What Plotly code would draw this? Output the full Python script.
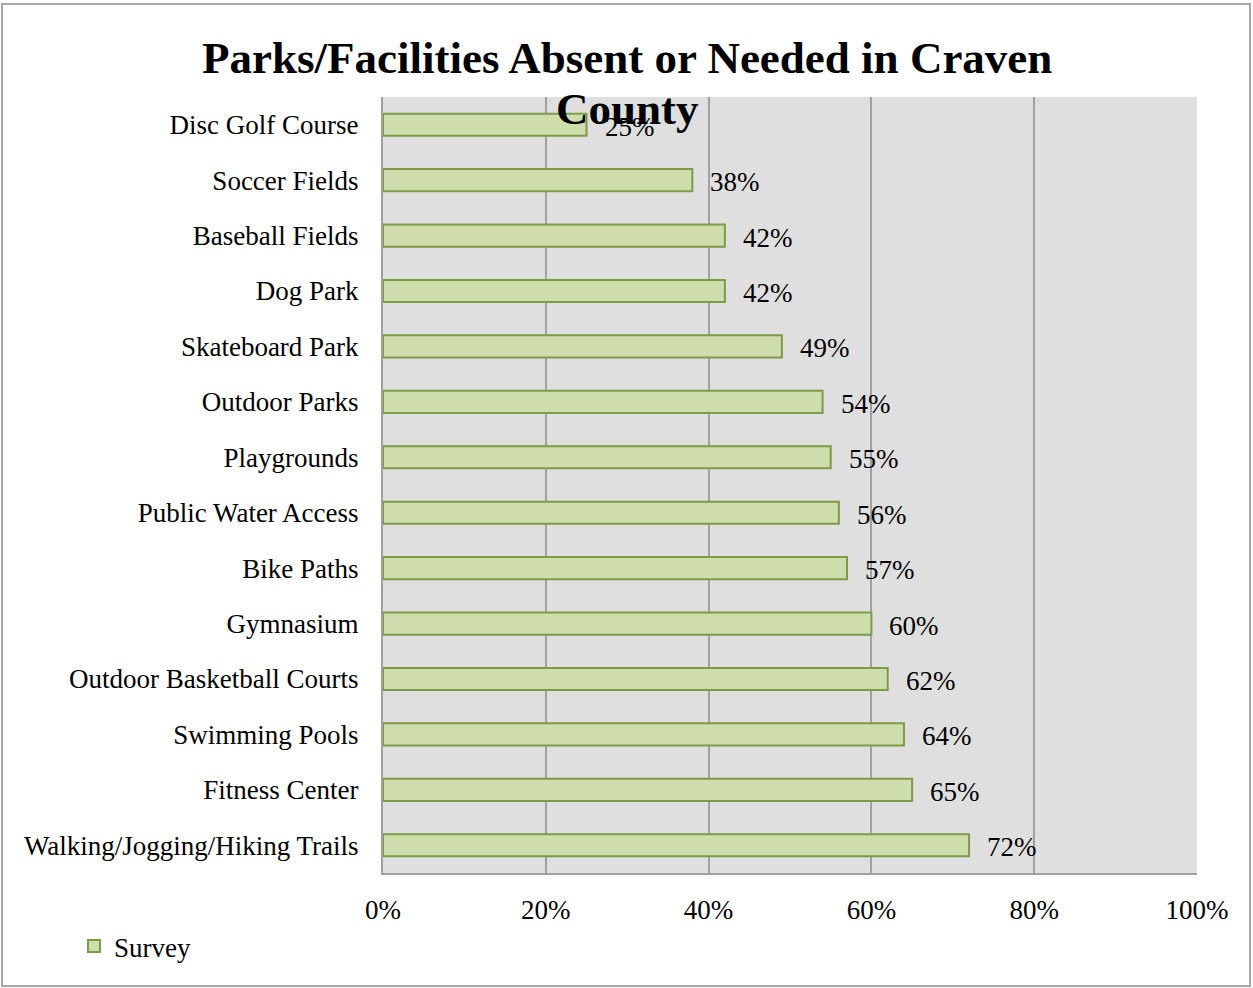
import plotly.graph_objects as go

# Facilities listed top to bottom, with the share of respondents (%)
facilities = [
    "Disc Golf Course",
    "Soccer Fields",
    "Baseball Fields",
    "Dog Park",
    "Skateboard Park",
    "Outdoor Parks",
    "Playgrounds",
    "Public Water Access",
    "Bike Paths",
    "Gymnasium",
    "Outdoor Basketball Courts",
    "Swimming Pools",
    "Fitness Center",
    "Walking/Jogging/Hiking Trails",
]
survey = [25, 38, 42, 42, 49, 54, 55, 56, 57, 60, 62, 64, 65, 72]
tick_values = [0, 20, 40, 60, 80, 100]
tick_labels = ["0%", "20%", "40%", "60%", "80%", "100%"]
title_lines = ["Parks/Facilities Absent or Needed in Craven", "County"]

FONT = "Liberation Serif"
W, H = 1253, 988
L, R, T, B = 383, 56, 97, 115
PW, PH = W - L - R, H - T - B


def py(pixel_y):
    """Convert a pixel row (from the top) to paper y."""
    return (H - B - pixel_y) / PH


def px(pixel_x):
    """Convert a pixel column (from the left) to paper x."""
    return (pixel_x - L) / PW


fig = go.Figure()
fig.add_trace(go.Bar(
    x=survey,
    y=facilities,
    orientation="h",
    name="Survey",
    marker=dict(color="#cfddac", line=dict(color="#7d9a47", width=2)),
    width=0.4,
    hoverinfo="x+y",
))

# value labels just past the end of each bar
for name, val in zip(facilities, survey):
    fig.add_annotation(
        x=val, y=name, xref="x", yref="y",
        text=f"{val}%", showarrow=False,
        xanchor="left", xshift=16, yshift=-2,
        font=dict(family=FONT, size=27, color="#000000"),
    )

# two-line chart title, the second line sitting over the top of the plot
for text, row in zip(title_lines, [58, 109]):
    fig.add_annotation(
        x=px(627), y=py(row), xref="paper", yref="paper",
        text=f"<b>{text}</b>", showarrow=False,
        xanchor="center", yanchor="middle",
        font=dict(family=FONT, size=45, color="#000000"),
    )

# thin frame around the whole chart
fig.add_shape(
    type="rect", xref="paper", yref="paper",
    x0=px(2), x1=px(1250), y0=py(986), y1=py(4),
    line=dict(color="#a6a6a6", width=2), layer="below",
)

fig.update_layout(
    width=W, height=H,
    margin=dict(l=L, r=R, t=T, b=B),
    paper_bgcolor="#ffffff",
    plot_bgcolor="#dfdfdf",
    showlegend=True,
    legend=dict(
        x=px(74), y=py(922),
        xanchor="left", yanchor="top",
        font=dict(family=FONT, size=27, color="#000000"),
        bgcolor="rgba(0,0,0,0)",
        itemwidth=30,
    ),
    xaxis=dict(
        range=[0, 100],
        tickvals=tick_values, ticktext=tick_labels,
        showgrid=True, gridcolor="#a0a0a0", gridwidth=2,
        showline=True, linecolor="#a0a0a0", linewidth=2,
        zeroline=False, ticks="", ticklabelstandoff=12,
        tickfont=dict(family=FONT, size=27, color="#000000"),
        fixedrange=True,
    ),
    yaxis=dict(
        autorange="reversed",
        showgrid=False,
        showline=True, linecolor="#a0a0a0", linewidth=2,
        ticks="", ticklabelstandoff=17,
        tickfont=dict(family=FONT, size=27, color="#000000"),
        fixedrange=True,
    ),
    bargap=0.6,
)

fig.write_html("out.html")
